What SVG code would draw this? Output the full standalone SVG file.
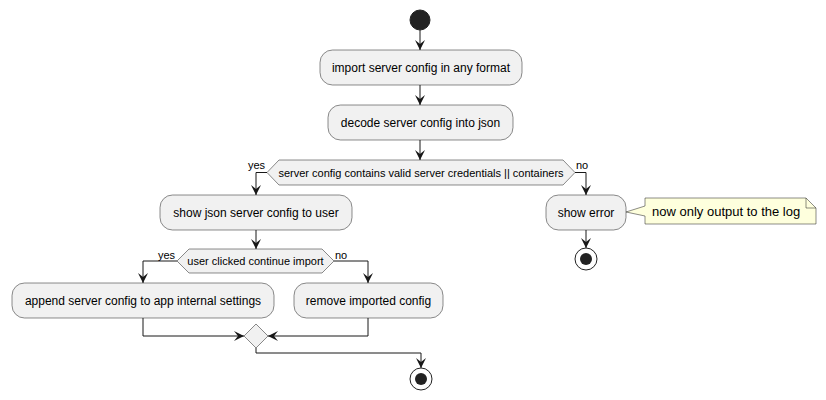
<svg xmlns="http://www.w3.org/2000/svg" width="826" height="400" viewBox="0 0 826 400">
<defs>
<style>
.box{fill:#F1F1F1;stroke:#181818;stroke-width:0.5}
.dia{fill:#F1F1F1;stroke:#181818;stroke-width:0.5}
.ln{fill:none;stroke:#181818;stroke-width:1}
.t{font-family:"Liberation Sans",Arial,sans-serif;font-size:12px;fill:#000}
.s{font-family:"Liberation Sans",Arial,sans-serif;font-size:11px;fill:#000}
.n{font-family:"Liberation Sans",Arial,sans-serif;font-size:13px;fill:#000}
</style>
<marker id="ah" viewBox="0 0 10 10" refX="10" refY="5" markerWidth="10" markerHeight="10" markerUnits="userSpaceOnUse" orient="auto">
<path d="M0,0 L10,5 L0,10 L4,5 Z" fill="#181818"/>
</marker>
</defs>
<rect width="826" height="400" fill="#FFFFFF"/>
<g id="connectors">
<line class="ln" x1="420" y1="30" x2="420" y2="50" marker-end="url(#ah)"/>
<line class="ln" x1="420" y1="85" x2="420" y2="105" marker-end="url(#ah)"/>
<line class="ln" x1="420" y1="140" x2="420" y2="160" marker-end="url(#ah)"/>
<polyline class="ln" points="267,172.5 256,172.5 256,195" marker-end="url(#ah)"/>
<polyline class="ln" points="575,172.5 586,172.5 586,195" marker-end="url(#ah)"/>
<line class="ln" x1="256" y1="230" x2="256" y2="249" marker-end="url(#ah)"/>
<polyline class="ln" points="177,261 143,261 143,283" marker-end="url(#ah)"/>
<polyline class="ln" points="334,261 368,261 368,283" marker-end="url(#ah)"/>
<polyline class="ln" points="143,318 143,336 244,336" marker-end="url(#ah)"/>
<polyline class="ln" points="368,318 368,336 268,336" marker-end="url(#ah)"/>
<polyline class="ln" points="256,348 256,353 421,353 421,368" marker-end="url(#ah)"/>
<line class="ln" x1="586" y1="230" x2="586" y2="248" marker-end="url(#ah)"/>
<text class="s" x="248" y="169">yes</text>
<text class="s" x="576" y="169">no</text>
<text class="s" x="158" y="259">yes</text>
<text class="s" x="335" y="259">no</text>
</g>
<g id="start"><circle cx="420" cy="20" r="10" fill="#222222" stroke="#222222"/></g>
<g id="import"><rect class="box" x="320" y="50" width="202" height="35" rx="12.5"/><text class="t" x="421" y="72" text-anchor="middle">import server config in any format</text></g>
<g id="decode"><rect class="box" x="328" y="105" width="185" height="35" rx="12.5"/><text class="t" x="420.5" y="127" text-anchor="middle">decode server config into json</text></g>
<g id="valid"><polygon class="dia" points="267,172.5 279,160 563,160 575,172.5 563,185 279,185"/><text class="s" x="421" y="176.5" text-anchor="middle">server config contains valid server credentials || containers</text></g>
<g id="showjson"><rect class="box" x="160" y="195" width="192" height="35" rx="12.5"/><text class="t" x="256" y="217" text-anchor="middle">show json server config to user</text></g>
<g id="showerror"><rect class="box" x="546" y="195" width="80" height="35" rx="12.5"/><text class="t" x="586" y="217" text-anchor="middle">show error</text></g>
<g id="note"><path d="M645,198 L806,198 L816,208 L816,224 L645,224 L645,216 L626,212 L645,206 Z" fill="#FEFFDD" stroke="#181818" stroke-width="0.5"/><path d="M806,198 L806,208 L816,208" fill="none" stroke="#181818" stroke-width="0.5"/><text class="n" x="652" y="216">now only output to the log</text></g>
<g id="stop1"><circle cx="586" cy="259" r="11" fill="#FFFFFF" stroke="#222222" stroke-width="1"/><circle cx="586" cy="259" r="6" fill="#222222"/></g>
<g id="clicked"><polygon class="dia" points="177,261 189,249 322,249 334,261 322,273 189,273"/><text class="s" x="255.5" y="265" text-anchor="middle">user clicked continue import</text></g>
<g id="append"><rect class="box" x="12" y="283" width="262" height="35" rx="12.5"/><text class="t" x="143" y="305" text-anchor="middle">append server config to app internal settings</text></g>
<g id="remove"><rect class="box" x="294" y="283" width="149" height="35" rx="12.5"/><text class="t" x="368.5" y="305" text-anchor="middle">remove imported config</text></g>
<g id="merge"><polygon class="dia" points="244,336 256,324 268,336 256,348"/></g>
<g id="stop2"><circle cx="421" cy="379" r="11" fill="#FFFFFF" stroke="#222222" stroke-width="1"/><circle cx="421" cy="379" r="6" fill="#222222"/></g>
</svg>
